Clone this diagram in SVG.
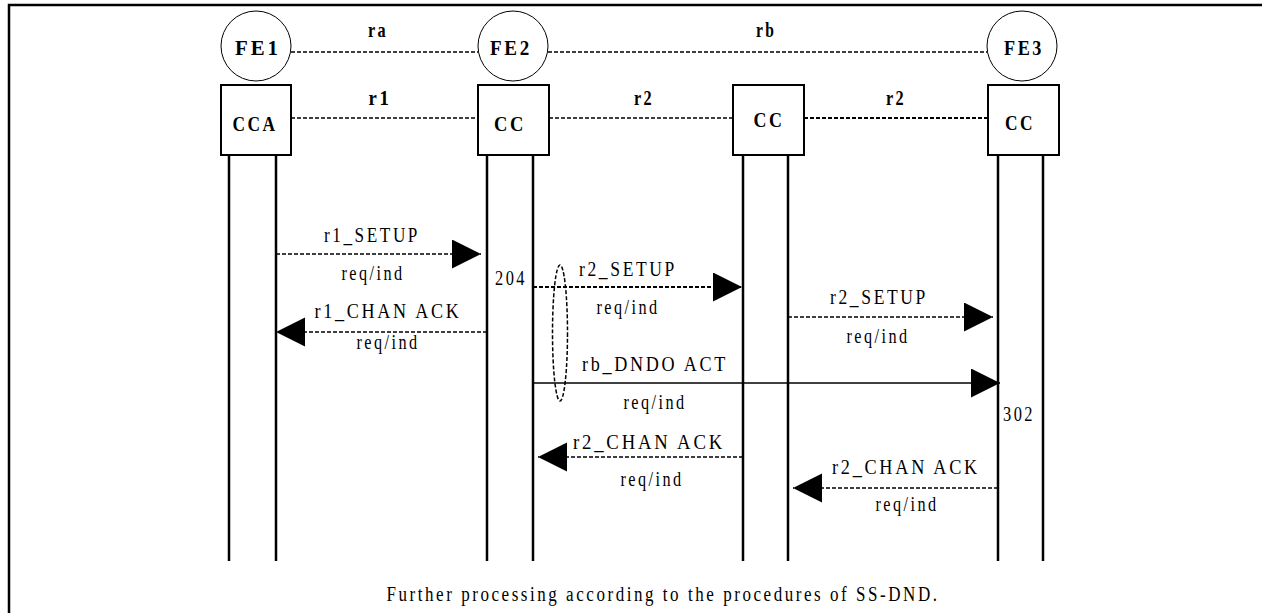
<svg xmlns="http://www.w3.org/2000/svg" width="1262" height="613" viewBox="0 0 1262 613">
<style>
.fr{fill:none;stroke:#000;stroke-width:2.5}
.circ{fill:#fff;stroke:#000;stroke-width:1}
.box{fill:#fff;stroke:#000;stroke-width:2}
.life{stroke:#000;stroke-width:2.5}
.if{stroke:#000;stroke-width:1.5;stroke-dasharray:4 2;fill:none}
.msg{stroke:#000;stroke-width:1.5;stroke-dasharray:4 2;fill:none}
.msgs{stroke:#000;stroke-width:1.5;fill:none}
.b{font-family:"Liberation Serif",serif;font-weight:bold;font-size:21px;letter-spacing:3px;fill:#000}
.t{font-family:"Liberation Serif",serif;font-size:20px;letter-spacing:3px;fill:#000}
</style>
<defs>
<marker id="ah" markerUnits="userSpaceOnUse" markerWidth="30" markerHeight="30" refX="29" refY="14.5" orient="auto" viewBox="0 0 30 30">
<path d="M0,0 L29,14.5 L0,29 z" fill="#000"/>
</marker>
</defs>
<rect width="1262" height="613" fill="#fff"/>
<path class="fr" d="M9,613 V5 H1262"/>

<g id="connectors">
<line class="if" x1="291" y1="52" x2="478" y2="52"/>
<line class="if" x1="548" y1="52" x2="987" y2="52"/>
<line class="if" x1="291" y1="118" x2="478" y2="118"/>
<line class="if" x1="549" y1="118" x2="733" y2="118"/>
<line class="if" x1="804" y1="118" x2="988" y2="118" style="stroke-width:2"/>
<text class="b" x="378" y="37" text-anchor="middle" textLength="20" lengthAdjust="spacingAndGlyphs">ra</text>
<text class="b" x="766" y="37" text-anchor="middle" textLength="20" lengthAdjust="spacingAndGlyphs">rb</text>
<text class="b" x="380" y="105" text-anchor="middle" textLength="23" lengthAdjust="spacingAndGlyphs">r1</text>
<text class="b" x="644" y="105" text-anchor="middle" textLength="20" lengthAdjust="spacingAndGlyphs">r2</text>
<text class="b" x="896" y="105" text-anchor="middle" textLength="20" lengthAdjust="spacingAndGlyphs">r2</text>

<line class="msg" x1="276" y1="254" x2="481" y2="254" marker-end="url(#ah)"/>
<line class="msg" x1="487" y1="332" x2="276" y2="332" marker-end="url(#ah)"/>
<line class="msg" x1="533" y1="287" x2="742" y2="287" marker-end="url(#ah)" style="stroke-width:2"/>
<line class="msg" x1="788" y1="317" x2="993" y2="317" marker-end="url(#ah)"/>
<line class="msgs" x1="533" y1="383" x2="1000" y2="383" marker-end="url(#ah)"/>
<line class="msg" x1="743" y1="457" x2="538" y2="457" marker-end="url(#ah)"/>
<line class="msg" x1="998" y1="488" x2="793" y2="488" marker-end="url(#ah)"/>
<ellipse cx="560" cy="333" rx="7.5" ry="68" class="msg"/>

<text class="t" x="372" y="242" text-anchor="middle" textLength="96" lengthAdjust="spacingAndGlyphs">r1_SETUP</text>
<text class="t" x="373" y="280" text-anchor="middle" textLength="63" lengthAdjust="spacingAndGlyphs">req/ind</text>
<text class="t" x="388" y="318" text-anchor="middle" textLength="147" lengthAdjust="spacingAndGlyphs">r1_CHAN ACK</text>
<text class="t" x="388" y="349" text-anchor="middle" textLength="63" lengthAdjust="spacingAndGlyphs">req/ind</text>
<text class="t" x="495" y="285" textLength="32" lengthAdjust="spacingAndGlyphs">204</text>
<text class="t" x="628" y="276" text-anchor="middle" textLength="98" lengthAdjust="spacingAndGlyphs">r2_SETUP</text>
<text class="t" x="628" y="314" text-anchor="middle" textLength="63" lengthAdjust="spacingAndGlyphs">req/ind</text>
<text class="t" x="879" y="304" text-anchor="middle" textLength="98" lengthAdjust="spacingAndGlyphs">r2_SETUP</text>
<text class="t" x="878" y="343" text-anchor="middle" textLength="63" lengthAdjust="spacingAndGlyphs">req/ind</text>
<text class="t" x="655" y="371" text-anchor="middle" textLength="146" lengthAdjust="spacingAndGlyphs">rb_DNDO ACT</text>
<text class="t" x="655" y="409" text-anchor="middle" textLength="63" lengthAdjust="spacingAndGlyphs">req/ind</text>
<text class="t" x="1003" y="421" textLength="32" lengthAdjust="spacingAndGlyphs">302</text>
<text class="t" x="649" y="449" text-anchor="middle" textLength="152" lengthAdjust="spacingAndGlyphs">r2_CHAN ACK</text>
<text class="t" x="652" y="486" text-anchor="middle" textLength="63" lengthAdjust="spacingAndGlyphs">req/ind</text>
<text class="t" x="906" y="474" text-anchor="middle" textLength="148" lengthAdjust="spacingAndGlyphs">r2_CHAN ACK</text>
<text class="t" x="907" y="511" text-anchor="middle" textLength="63" lengthAdjust="spacingAndGlyphs">req/ind</text>
</g>

<g id="fe1">
<circle class="circ" cx="256" cy="46" r="35"/>
<text class="b" x="258" y="55" text-anchor="middle" textLength="46" lengthAdjust="spacingAndGlyphs">FE1</text>
</g>
<g id="fe2">
<circle class="circ" cx="513" cy="46" r="35"/>
<text class="b" x="511" y="55" text-anchor="middle" textLength="42" lengthAdjust="spacingAndGlyphs">FE2</text>
</g>
<g id="fe3">
<circle class="circ" cx="1022" cy="46" r="35"/>
<text class="b" x="1024" y="55" text-anchor="middle" textLength="40" lengthAdjust="spacingAndGlyphs">FE3</text>
</g>

<g id="cca">
<rect class="box" x="221" y="85" width="70" height="70"/>
<line class="life" x1="229" y1="155" x2="229" y2="561"/>
<line class="life" x1="276" y1="155" x2="276" y2="561"/>
<text class="b" x="255" y="131" text-anchor="middle" textLength="45" lengthAdjust="spacingAndGlyphs">CCA</text>
</g>
<g id="cc1">
<rect class="box" x="478" y="85" width="71" height="70"/>
<line class="life" x1="487" y1="155" x2="487" y2="561"/>
<line class="life" x1="533" y1="155" x2="533" y2="561"/>
<text class="b" x="510" y="131" text-anchor="middle" textLength="32" lengthAdjust="spacingAndGlyphs">CC</text>
</g>
<g id="cc2">
<rect class="box" x="733" y="85" width="71" height="70"/>
<line class="life" x1="743" y1="155" x2="743" y2="561"/>
<line class="life" x1="788" y1="155" x2="788" y2="561"/>
<text class="b" x="769" y="127" text-anchor="middle" textLength="31" lengthAdjust="spacingAndGlyphs">CC</text>
</g>
<g id="cc3">
<rect class="box" x="988" y="85" width="71" height="70"/>
<line class="life" x1="998" y1="155" x2="998" y2="561"/>
<line class="life" x1="1043" y1="155" x2="1043" y2="561"/>
<text class="b" x="1020" y="130" text-anchor="middle" textLength="30" lengthAdjust="spacingAndGlyphs">CC</text>
</g>

<g id="footer">
<text class="t" x="663" y="601" text-anchor="middle" textLength="553" lengthAdjust="spacingAndGlyphs">Further processing according to the procedures of SS-DND.</text>
</g>
</svg>
